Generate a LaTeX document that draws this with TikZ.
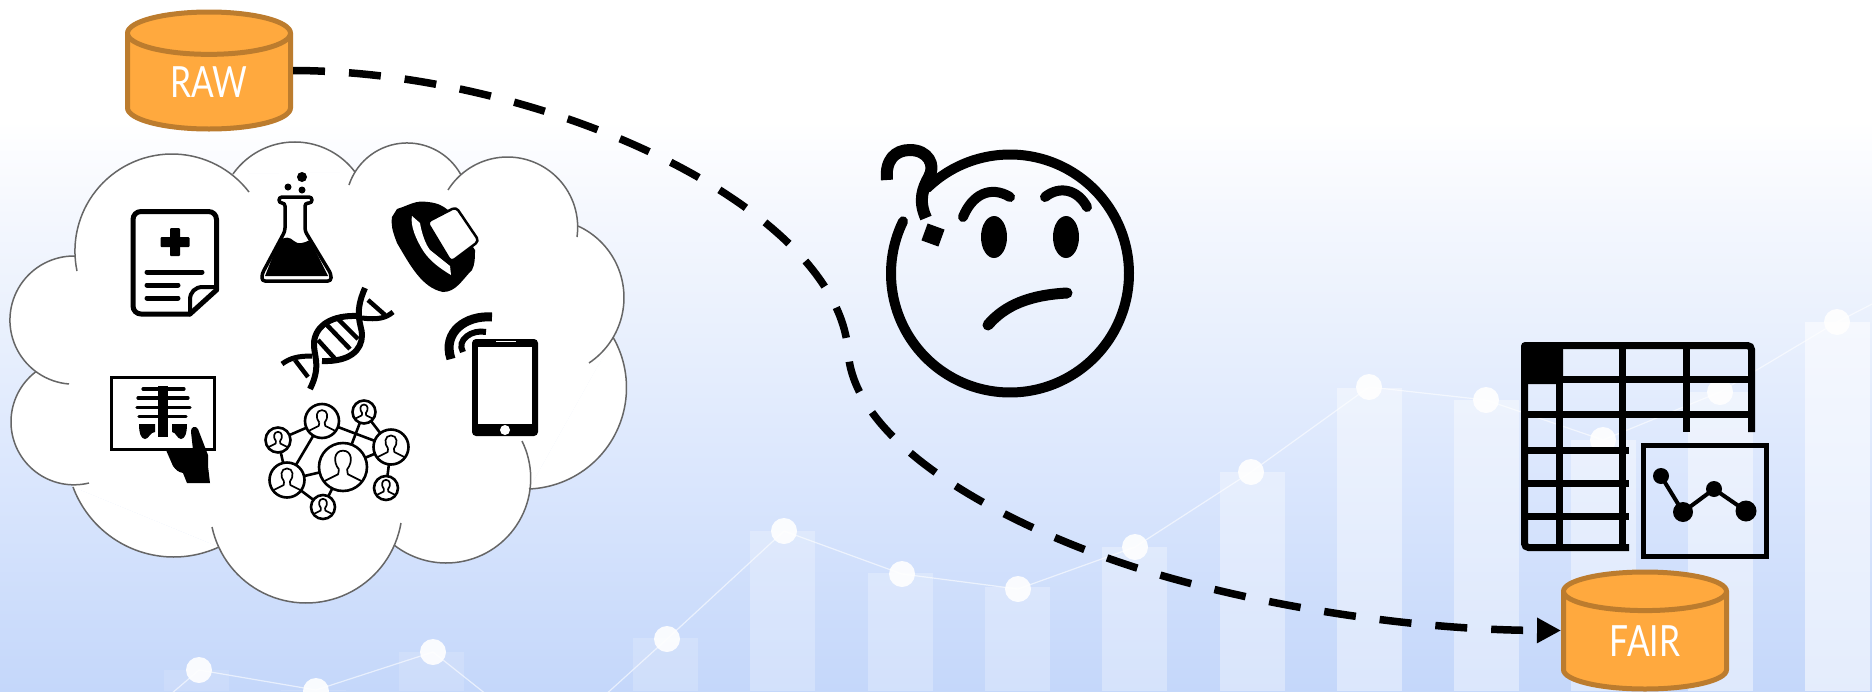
\documentclass[tikz,border=0pt]{standalone}
\usepackage{fontspec}
\usetikzlibrary{shapes.geometric,arrows.meta}
\newfontfamily\cylfont[FakeStretch=0.78]{Lato}
\definecolor{cylfill}{HTML}{FFA93E}
\definecolor{cylline}{HTML}{BC7C2E}
\definecolor{cloudline}{HTML}{666666}
\pgfdeclareverticalshading{pagebg}{100bp}{
 rgb(0bp)=(0.769,0.843,0.98);
 rgb(25bp)=(0.769,0.843,0.98);
 rgb(40.25bp)=(0.855,0.902,0.992);
 rgb(53.3bp)=(0.925,0.949,0.992);
 rgb(59.4bp)=(0.957,0.969,0.996);
 rgb(66.3bp)=(1,1,1);
 rgb(100bp)=(1,1,1)}
\tikzset{
 x=1pt,y=-1pt,
 dbnode/.style={shape=cylinder,shape border rotate=90,aspect=0.55,anchor=shape center,draw=cylline,fill=cylfill,line width=5pt,
   minimum width=163pt,minimum height=117pt,inner sep=0pt,text=white,font=\cylfont\fontsize{43}{43}\selectfont},
 lobe/.style={draw=cloudline,line width=1.5pt},
 glyph/.style={line width=5pt,line cap=round,line join=round},
 bar/.style={fill=white},
 spark/.style={white,opacity=.6,line width=1.2pt},
 sparkdot/.style={circle,fill=white,fill opacity=.9,inner sep=0pt,minimum size=26pt},
 peer/.style={circle,draw=black,fill=white,line width=2.6pt,inner sep=0pt},
 link/.style={line width=2.6pt},
 gridline/.style={line width=7pt},
 flow/.style={line width=7.5pt,dash pattern=on 32pt off 24pt,-{Triangle[length=24pt,width=24pt]}}
}
\newcommand{\persona}[3]{%
 \begin{scope}[shift={(#1,#2)},x=#3pt,y=-#3pt]
  \clip (0,0) circle (1);
  \draw[line width=1.7pt,line join=round] (-.17,.1) .. controls (-.42,-.2) and (-.38,-.68) .. (0,-.68) .. controls (.38,-.68) and (.42,-.2) .. (.17,.1) -- (.2,.3) -- (.9,.65);
  \draw[line width=1.7pt,line join=round] (-.17,.1) -- (-.2,.3) -- (-.9,.65);
 \end{scope}}
% one cloud lobe: the circular arc from A through P to B
\newcommand{\lobearc}[7]{%
 \pgfmathsetmacro\xa{#2/100}\pgfmathsetmacro\ya{#3/100}%
 \pgfmathsetmacro\xb{#4/100}\pgfmathsetmacro\yb{#5/100}%
 \pgfmathsetmacro\xc{#6/100}\pgfmathsetmacro\yc{#7/100}%
 \pgfmathsetmacro\dd{2*(\xa*(\yb-\yc)+\xb*(\yc-\ya)+\xc*(\ya-\yb))}%
 \pgfmathsetmacro\sa{\xa*\xa+\ya*\ya}\pgfmathsetmacro\sb{\xb*\xb+\yb*\yb}\pgfmathsetmacro\sc{\xc*\xc+\yc*\yc}%
 \pgfmathsetmacro\ux{(\sa*(\yb-\yc)+\sb*(\yc-\ya)+\sc*(\ya-\yb))/\dd}%
 \pgfmathsetmacro\uy{(\sa*(\xc-\xb)+\sb*(\xa-\xc)+\sc*(\xb-\xa))/\dd}%
 \pgfmathsetmacro\rr{sqrt((\xa-\ux)*(\xa-\ux)+(\ya-\uy)*(\ya-\uy))}%
 \pgfmathsetmacro\sang{atan2(\ya-\uy,\xa-\ux)}%
 \pgfmathsetmacro\eang{atan2(\yc-\uy,\xc-\ux)}%
 \pgfmathsetmacro\eang{\eang<\sang ? \eang+360 : \eang}%
 \path[#1] plot[domain=\sang:\eang,samples=50] ({100*(\ux+\rr*cos(\x))},{100*(\uy+\rr*sin(\x))});}
\newcommand{\cloudlobes}[1]{%
 \lobearc{#1}{77}{271}{171}{154}{249}{192}%
 \lobearc{#1}{233}{174}{296}{142}{355}{172}%
 \lobearc{#1}{349}{185}{406}{143}{461}{175}%
 \lobearc{#1}{448}{190}{508}{157}{577}{237}%
 \lobearc{#1}{578}{226}{624}{297}{589}{363}%
 \lobearc{#1}{613.5}{338}{626.5}{387}{529}{489}%
 \lobearc{#1}{522}{441}{447}{563}{394}{545}%
 \lobearc{#1}{401}{523}{306}{603}{212}{527}%
 \lobearc{#1}{219}{547}{173}{557}{73}{487}%
 \lobearc{#1}{89}{483}{11}{422}{35.5}{372}%
 \lobearc{#1}{69}{384}{10}{323}{75.5}{256}}
\begin{document}
\begin{tikzpicture}
\useasboundingbox (0,0) rectangle (1872,691);
\path[shading=pagebg] (0,0) rectangle (1872,691);
% faint chart in the background
\foreach \xa/\top/\op in {164/670/.12,281/690/.12,399/652/.15,633/638/.18,750/531/.25,868/573/.25,985/587/.25,1102/547/.3,1220/472/.35,1337/388/.4,1454/400/.4,1571/440/.4,1688/392/.45,1805/322/.55}
 \fill[bar,fill opacity=\op] (\xa,\top) rectangle ++(65,691-\top);
\draw[spark] (150,712) -- (199,670) -- (316,690) -- (433,652) -- (550,745) -- (667,639) -- (784,531) -- (902,574) -- (1018,589) -- (1135,547) -- (1251,472) -- (1369,387) -- (1486,400) -- (1603,440) -- (1720,392) -- (1837,322) -- (1880,300);
\foreach \n/\xa/\ya in {a/199/670,b/316/691,c/433/652,d/667/639,e/784/531,f/902/574,g/1018/589,h/1135/547,i/1251/472,j/1369/387,k/1486/400,l/1603/440,m/1720/392,n/1837/322}
 \node[sparkdot] (dot\n) at (\xa,\ya) {};
% cloud
\fill[white] (75.5,256) -- (233,174) -- (355,172) -- (461,175) -- (578,226) -- (613.5,338) -- (529,489) -- (394,545) -- (219,547) -- (73,487) -- (35.5,372) -- cycle;
\cloudlobes{fill=white}
\cloudlobes{lobe}
% medical record
\draw[glyph,rounded corners=8pt] (190,314) -- (133,314) -- (133,211.5) -- (216.5,211.5) -- (216.5,290);
\draw[glyph] (216.5,290) -- (190,314);
\draw[line width=4pt,line join=round] (190,314) -- (190,300) .. controls (190,292) and (195,287) .. (203,287) -- (216.5,287);
\fill[rounded corners=1pt] (170,228) rectangle (180,256);
\fill[rounded corners=1pt] (160.5,237) rectangle (189.5,247);
\draw[glyph,line width=5pt] (147,272) -- (202,272) (147,285) -- (178,285) (147,298) -- (178,298);
% flask
\draw[line width=3.5pt,line join=round,rounded corners=3pt] (285,203) -- (279,203) -- (279,197) -- (312,197) -- (312,203) -- (305,203) -- (305,231) -- (331,274) -- (331,281) -- (262,281) -- (262,274) -- (285,231) -- cycle;
\fill (279,241) .. controls (285,236) and (290,237) .. (294,241) .. controls (298,245) and (304,243) .. (310,240) -- (328,276) -- (265,276) -- cycle;
\fill (302,177) circle (5) (288,187) circle (3.5) (302,190) circle (3.5);
% watch
\fill (392,217) -- (397,209) .. controls (410,205) and (415,200) .. (428,202) .. controls (438,203) and (443,206) .. (448,210) -- (475,250) .. controls (475,258) and (475,264) .. (472,270) .. controls (462,280) and (456,292) .. (443,292) .. controls (422,288) and (410,265) .. (397,243) .. controls (392,230) and (391,225) .. (392,217) -- cycle;
\fill[white] (412,216) -- (420,223) .. controls (422,235) and (426,245) .. (430,250) -- (450,266) -- (451,275) .. controls (441,269) and (431,262) .. (424,252) .. controls (416,240) and (410,225) .. (412,216) -- cycle;
\draw[fill=white,line width=2.5pt,line join=round,rounded corners=4pt] (427,222) -- (456,207) -- (479,241) -- (451,262) -- cycle;
% dna
\draw[line width=6pt] (365,288) .. controls (353,315) and (362,325) .. (362,335) .. controls (362,350) and (350,362) .. (322,361);
\draw[line width=6pt] (310,389) .. controls (322,365) and (313,355) .. (314,342) .. controls (316,325) and (332,315) .. (358,316);
\draw[line width=5pt] (282,364) .. controls (290,358) and (298,356) .. (312,356);
\draw[line width=5pt] (362,318) .. controls (378,320) and (386,318) .. (393,312);
\draw[line width=4.5pt] (368,300) -- (385,315) (295,360) -- (308,377) (318,340) -- (337,361) (326,324) -- (350,349) (338,319) -- (358,339);
% phone
\fill[rounded corners=4pt] (472,339) rectangle (538,436);
\fill[white] (478,347) rectangle (531.5,424);
\fill[white] (505,430) circle (5);
\draw[white,line width=1.3pt] (496,341.5) -- (516,341.5);
\draw[line width=9pt] (492,317) .. controls (466,315) and (442,332) .. (451,359);
\draw[line width=6pt] (486,332) .. controls (472,329) and (456,340) .. (463,352);
% x-ray
\draw[line width=3pt] (111.5,377.5) rectangle (214.5,449);
\fill (158,386) rectangle (168,437);
\draw[line width=3.2pt,line cap=round] (143,389) -- (184,389) (138,398) -- (188,398) (137,407.5) -- (190,407.5) (139,416.5) -- (186,416.5);
\fill (139,424) -- (155,424) -- (155,432) .. controls (150,432) and (149,439) .. (145,439) .. controls (141,439) and (139,433) .. (139,424) -- cycle;
\fill (172,424) -- (187,424) .. controls (187,433) and (185,439) .. (181,439) .. controls (177,439) and (176,432) .. (172,432) -- cycle;
\fill (191,432) .. controls (190,427) and (196,425) .. (198,429) -- (208,455) -- (208,466) -- (210,483) -- (187,483) -- (183,473) .. controls (178,472) and (176,470) .. (173,466) -- (166,450) -- (193,450) -- cycle;
% network
\foreach \a/\xa/\ya in {p1/322/421,p2/364/412,p3/391/447,p4/343/467,p5/278/440,p6/287/480,p7/323/507,p8/386/488}
 \coordinate (\a) at (\xa,\ya);
\foreach \a/\b in {p1/p5,p1/p3,p1/p6,p5/p6,p6/p4,p6/p7,p7/p4,p4/p3,p4/p2,p2/p3,p3/p8}
 \draw[link] (\a) -- (\b);
\node[peer,minimum size=34pt] (n1) at (p1) {};
\node[peer,minimum size=23pt] (n2) at (p2) {};
\node[peer,minimum size=35pt] (n3) at (p3) {};
\node[peer,minimum size=48pt] (n4) at (p4) {};
\node[peer,minimum size=25pt] (n5) at (p5) {};
\node[peer,minimum size=35pt] (n6) at (p6) {};
\node[peer,minimum size=24pt] (n7) at (p7) {};
\node[peer,minimum size=24pt] (n8) at (p8) {};
\persona{322}{421}{16}\persona{364}{412}{11}\persona{391}{447}{17}\persona{343}{467}{24}\persona{278}{440}{12}\persona{287}{480}{17}\persona{323}{507}{12}\persona{386}{488}{12}
% puzzled face
\draw[line width=10pt,line cap=round] plot[domain=226:566,samples=90,smooth,tension=.55] ({1010+119*cos(\x)},{273.5+119*sin(\x)});
\draw[line width=12pt,line join=round] (887,180) .. controls (885,160) and (895,150) .. (910,150) .. controls (928,150) and (936,165) .. (929,177) .. controls (923,188) and (918,200) .. (926,218);
\fill[rotate around={-20:(933,235)}] (924,226) rectangle (942,244);
\fill (994,237) ellipse (13 and 21) (1066,237) ellipse (13 and 21);
\draw[line width=10pt,line cap=round] (963,217) .. controls (972,195) and (990,185) .. (1010,197);
\draw[line width=10pt,line cap=round] (1045,197) .. controls (1060,185) and (1078,190) .. (1087,207);
\draw[line width=11pt,line cap=round] (988,325) .. controls (1005,305) and (1030,295) .. (1067,293);
% table
\fill[rounded corners=4pt] (1521,342) rectangle (1563,384);
\draw[gridline,rounded corners=4pt] (1629,547.5) -- (1524.5,547.5) -- (1524.5,345.5) -- (1751.5,345.5) -- (1751.5,432);
\draw[gridline] (1521,379.5) -- (1755,379.5) (1521,414.5) -- (1755,414.5);
\draw[gridline] (1521,450) -- (1629,450) (1521,483.5) -- (1629,483.5) (1521,516) -- (1629,516);
\draw[gridline] (1559,342) -- (1559,551) (1622,342) -- (1622,551) (1686,342) -- (1686,432);
% chart
\draw[line width=5pt] (1643.5,445.5) rectangle (1766.5,556.5);
\draw[line width=4pt] (1661,476) -- (1683,512) -- (1714,489) -- (1746,511);
\fill (1661,476) circle (8) (1683,512) circle (10) (1714,489) circle (8) (1746,511) circle (10.5);
% cylinders
\node[dbnode] (raw) at (209,70.5) {RAW};
\node[dbnode] (fair) at (1645,630.5) {FAIR};
\coordinate (bendA) at (848,350);
\coordinate (bendB) at (1113,560);
\draw[flow] (raw.east |- raw.shape center) .. controls (540,71) and (835,205) .. (bendA) .. controls (852,440) and (990,517) .. (bendB) .. controls (1230,601) and (1400,630) .. (fair.west |- fair.shape center);
\end{tikzpicture}
\end{document}
